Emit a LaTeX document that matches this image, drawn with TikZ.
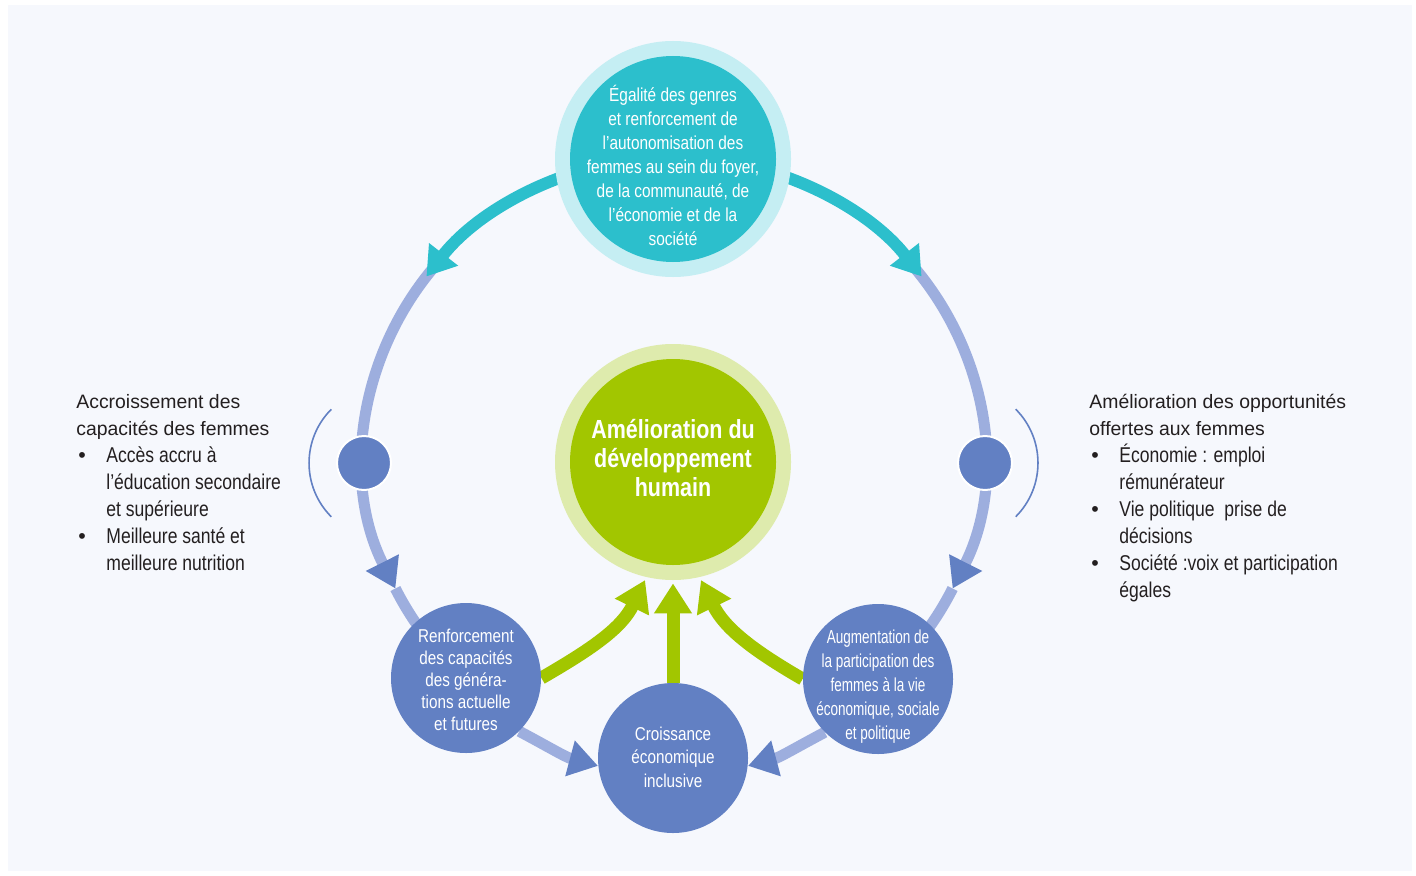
\documentclass[tikz,border=0pt]{standalone}
\usepackage{fontspec}
\setmainfont{Liberation Sans}
\newfontfamily\condfont{Liberation Sans}[FakeStretch=0.82]
\newfontfamily\narrowfont{Liberation Sans}[FakeStretch=0.72]
\usetikzlibrary{arrows.meta}

\definecolor{bgC}{HTML}{F6F8FD}
\definecolor{cyanC}{HTML}{2CBFCC}
\definecolor{cyanL}{HTML}{C5EEF3}
\definecolor{greenC}{HTML}{A2C600}
\definecolor{greenL}{HTML}{DEEBAD}
\definecolor{blueC}{HTML}{6280C3}
\definecolor{lavC}{HTML}{9DAEDE}
\definecolor{textC}{HTML}{231F20}

\newcommand\blocktitle[1]{\multicolumn{2}{@{}l@{}}{\normalfont\fontsize{9.7}{13.5}\selectfont #1}}
\newcommand\itembullet{\makebox[15pt][l]{\hspace{1pt}\normalfont\textbullet}}

\pgfdeclarelayer{bg}
\pgfdeclarelayer{back}
\pgfsetlayers{bg,back,main}

\tikzset{
  ringline/.style={draw=lavC, line width=5.5pt},
  ringarrow/.style={ringline, -{Triangle[length=14.5pt,width=17.5pt,color=blueC]}},
  cyanarrow/.style={draw=cyanC, line width=6pt, -{Triangle[length=14pt,width=17.5pt]}},
  greenarrow/.style={draw=greenC, line width=6.5pt, -{Triangle[length=15pt,width=18pt]}, shorten >=1.5pt},
  halo/.style={circle, minimum size=118pt, inner sep=0pt},
  disc/.style={circle, inner sep=0pt, minimum size=103pt},
  smalldisc/.style={circle, inner sep=0pt, fill=blueC, minimum size=75pt},
  disctext/.style={inner sep=0pt, text=white, align=center, font=\condfont\fontsize{9.3}{11}\selectfont},
  ringdot/.style={circle, fill=blueC, draw=white, line width=1pt, minimum size=27pt, inner sep=0pt},
  thinarc/.style={draw=blueC, line width=0.8pt},
  textblock/.style={inner sep=0pt, anchor=base west, text=textC, font=\condfont\fontsize{10.7}{13.5}\selectfont}
}

\begin{document}
\begin{tikzpicture}[x=0.5pt,y=0.5pt]
\begin{pgfonlayer}{bg}
  \fill[white] (0,0) rectangle (1416,875);
  \fill[bgC] (8,4) rectangle (1412,870);
\end{pgfonlayer}
\useasboundingbox (0,0) rectangle (1416,875);

% points on the ring
\coordinate (ring) at (674,418);
\foreach \a in {40,80,100,140,143,206,228,312,334}
  \coordinate (r\a) at ({674+310*cos(\a)},{418+300*sin(\a)});

% left side of the ring
\draw[ringline] (r206) arc[start angle=206, end angle=228, x radius=310, y radius=300];
\draw[ringarrow] (r140) arc[start angle=140, end angle=206, x radius=310, y radius=300];
\draw[cyanarrow] (r100) arc[start angle=100, end angle=143, x radius=310, y radius=300];
% right side of the ring
\draw[ringline] (r334) arc[start angle=334, end angle=312, x radius=310, y radius=300];
\draw[ringarrow] (r40) arc[start angle=40, end angle=-26, x radius=310, y radius=300];
\draw[cyanarrow] (r80) arc[start angle=80, end angle=37, x radius=310, y radius=300];

% circles
\node[halo, fill=cyanL] (top) at (673,716) {};
\node[disc, fill=cyanC] (topc) at (top) {};
\node[disctext, font=\condfont\fontsize{9.4}{12}\selectfont] (toptext) at (673,709.5) {Égalité des genres\\et renforcement de\\l’autonomisation des\\femmes au sein du foyer,\\de la communauté, de\\l’économie et de la\\société};
\node[halo, fill=greenL] (centre) at (673,413) {};
\node[disc, fill=greenC] (centrec) at (centre) {};
\node[disctext, font=\condfont\bfseries\fontsize{13.1}{14.5}\selectfont] (centretext) at (673,416.5) {Amélioration du\\développement\\humain};
\node[smalldisc] (renf) at (466,197) {};
\node[disctext] (renftext) at (466,195) {Renforcement\\des capacités\\des généra-\\tions actuelle\\et futures};
\node[smalldisc] (crois) at (673,117) {};
\node[disctext, font=\condfont\fontsize{9.3}{11.7}\selectfont] (croistext) at (673,118) {Croissance\\économique\\inclusive};
\node[smalldisc] (aug) at (878,196) {};
\node[disctext, font=\narrowfont\fontsize{9.4}{12}\selectfont] (augtext) at (878,188) {Augmentation de\\la participation des\\femmes à la vie\\économique, sociale\\et politique};
\node[ringdot] (dotl) at (364,412) {};
\node[ringdot] (dotr) at (985,412) {};

\draw[thinarc] (331.3,465.7) arc[start angle=135, end angle=225, radius=76];
\draw[thinarc] (1015.7,358.3) arc[start angle=-45, end angle=45, radius=76];

\begin{pgfonlayer}{back}
  \draw[ringarrow] (renf.-45) to[out=-28, in=165] (crois.186);
  \draw[ringarrow] (aug.225) to[out=208, in=15] (crois.354);
  \draw[greenarrow] (renf.0) to[out=30, in=244] (centre.257);
  \draw[greenarrow] (crois.north) -- (centre.270);
  \draw[greenarrow] (aug.180) to[out=150, in=-64] (centre.283);
\end{pgfonlayer}

% side texts
\node[textblock] (capa) at (76,467) {\begin{tabular}[t]{@{}l@{}l@{}}
  \blocktitle{Accroissement des}\\
  \blocktitle{capacités des femmes}\\
  \itembullet & Accès accru à\\
  & l’éducation secondaire\\
  & et supérieure\\
  \itembullet & Meilleure santé et\\
  & meilleure nutrition
\end{tabular}};
\node[textblock] (oppo) at (1089,467) {\begin{tabular}[t]{@{}l@{}l@{}}
  \blocktitle{Amélioration des opportunités}\\
  \blocktitle{offertes aux femmes}\\
  \itembullet & Économie : emploi\\
  & rémunérateur\\
  \itembullet & Vie politique~ prise de\\
  & décisions\\
  \itembullet & Société :voix et participation\\
  & égales
\end{tabular}};
\end{tikzpicture}
\end{document}
